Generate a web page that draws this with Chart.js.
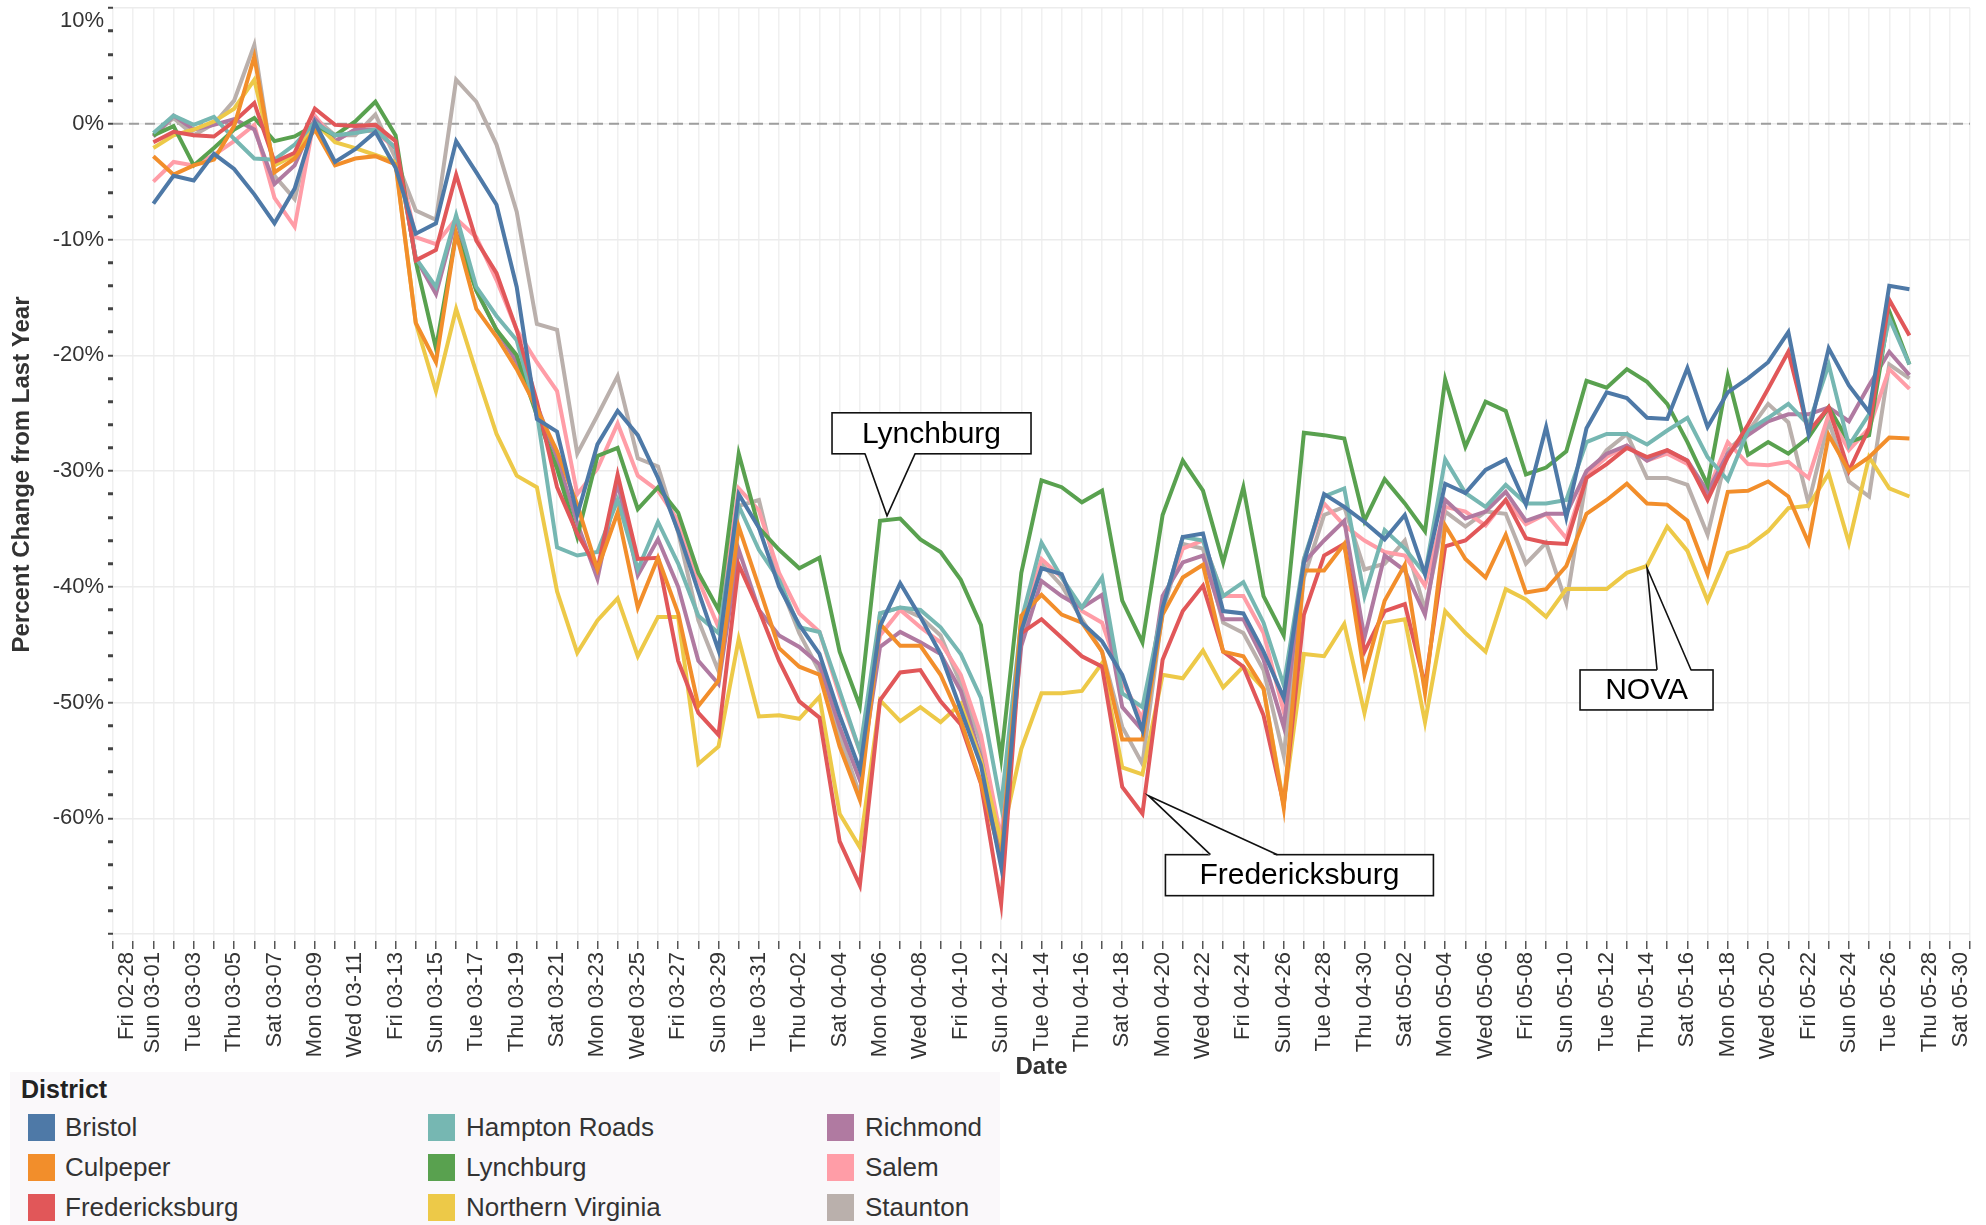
<!DOCTYPE html>
<html>
<head>
<meta charset="utf-8">
<title>Percent Change from Last Year by District</title>
<script src="https://cdn.jsdelivr.net/npm/chart.js@4.4.1/dist/chart.umd.min.js"></script>
<style>
  html, body { margin: 0; padding: 0; background: #fff; }
  body { width: 1986px; height: 1225px; position: relative; overflow: hidden; font-family: "Liberation Sans", Arial, sans-serif; }
  #chart { position: absolute; left: 0; top: 0; }
  #legendBg { position: absolute; left: 10px; top: 1072px; width: 990px; height: 153px; background: #faf8fa; }
  .legendTitle { position: absolute; left: 21px; top: 1074px; font-size: 25px; line-height: 30px; font-weight: bold; color: #222; }
  .swatch { position: absolute; width: 27px; height: 27px; }
  .legendText { position: absolute; font-size: 26px; line-height: 30px; color: #333; white-space: nowrap; }
</style>
</head>
<body>
<canvas id="chart" width="1986" height="1225"></canvas>
<div id="legendBg"></div>
<div class="legendTitle">District</div>
<div id="legendItems"></div>

<script>
// x categories: one per day
const dates = [
  "Fri 02-28", "Sat 02-29", "Sun 03-01", "Mon 03-02", "Tue 03-03", "Wed 03-04", "Thu 03-05", "Fri 03-06", "Sat 03-07", "Sun 03-08",
  "Mon 03-09", "Tue 03-10", "Wed 03-11", "Thu 03-12", "Fri 03-13", "Sat 03-14", "Sun 03-15", "Mon 03-16", "Tue 03-17", "Wed 03-18",
  "Thu 03-19", "Fri 03-20", "Sat 03-21", "Sun 03-22", "Mon 03-23", "Tue 03-24", "Wed 03-25", "Thu 03-26", "Fri 03-27", "Sat 03-28",
  "Sun 03-29", "Mon 03-30", "Tue 03-31", "Wed 04-01", "Thu 04-02", "Fri 04-03", "Sat 04-04", "Sun 04-05", "Mon 04-06", "Tue 04-07",
  "Wed 04-08", "Thu 04-09", "Fri 04-10", "Sat 04-11", "Sun 04-12", "Mon 04-13", "Tue 04-14", "Wed 04-15", "Thu 04-16", "Fri 04-17",
  "Sat 04-18", "Sun 04-19", "Mon 04-20", "Tue 04-21", "Wed 04-22", "Thu 04-23", "Fri 04-24", "Sat 04-25", "Sun 04-26", "Mon 04-27",
  "Tue 04-28", "Wed 04-29", "Thu 04-30", "Fri 05-01", "Sat 05-02", "Sun 05-03", "Mon 05-04", "Tue 05-05", "Wed 05-06", "Thu 05-07",
  "Fri 05-08", "Sat 05-09", "Sun 05-10", "Mon 05-11", "Tue 05-12", "Wed 05-13", "Thu 05-14", "Fri 05-15", "Sat 05-16", "Sun 05-17",
  "Mon 05-18", "Tue 05-19", "Wed 05-20", "Thu 05-21", "Fri 05-22", "Sat 05-23", "Sun 05-24", "Mon 05-25", "Tue 05-26", "Wed 05-27",
  "Thu 05-28", "Fri 05-29", "Sat 05-30"
];

// percent change from last year, Sun 03-01 .. Wed 05-27 (null where no data)
const bristol = [null, null,
  -6.9, -4.5, -4.9, -2.6, -3.9, -6.1, -8.6, -5.6, 0.1, -3.3,
  -2.2, -0.7, -3.8, -9.5, -8.6, -1.5, -4.2, -7.0, -14.1, -25.5,
  -26.6, -33.8, -27.7, -24.8, -26.9, -30.6, -35.2, -40.4, -45.5, -32.0,
  -34.9, -40.0, -43.3, -45.8, -51.1, -55.8, -43.4, -39.7, -42.6, -45.8,
  -50.6, -55.4, -64.2, -43.8, -38.4, -38.9, -43.1, -44.7, -47.6, -52.4,
  -41.8, -35.7, -35.4, -42.1, -42.3, -45.6, -49.6, -37.9, -32.0, -33.1,
  -34.4, -35.9, -33.8, -38.9, -31.1, -31.9, -29.9, -29.0, -32.9, -26.2,
  -34.0, -26.3, -23.2, -23.7, -25.4, -25.5, -21.1, -26.2, -23.2, -22.0,
  -20.6, -18.0, -26.8, -19.4, -22.6, -24.9, -14.0, -14.3,
  null, null, null];

const culpeper = [null, null,
  -2.8, -4.4, -3.6, -3.1, -0.2, 5.8, -4.2, -3.0, -0.5, -3.6,
  -3.0, -2.8, -3.5, -17.2, -20.6, -9.5, -16.0, -18.4, -21.2, -24.6,
  -28.3, -32.9, -38.5, -33.6, -41.8, -37.5, -42.3, -50.3, -48.1, -34.8,
  -40.0, -45.3, -46.9, -47.6, -53.8, -58.4, -43.2, -45.1, -45.1, -47.6,
  -51.5, -56.9, -63.5, -42.5, -40.7, -42.4, -43.1, -45.6, -53.2, -53.2,
  -42.4, -39.2, -38.1, -45.6, -46.0, -48.8, -59.1, -38.6, -38.6, -36.3,
  -47.6, -41.2, -38.1, -49.2, -34.7, -37.6, -39.2, -35.5, -40.5, -40.2,
  -38.2, -33.7, -32.5, -31.1, -32.8, -32.9, -34.3, -38.9, -31.8, -31.7,
  -30.9, -32.2, -36.2, -26.9, -30.0, -28.8, -27.1, -27.2,
  null, null, null];

const fredericksburg = [null, null,
  -1.6, -0.7, -1.0, -1.1, 0.2, 1.8, -3.3, -2.5, 1.3, -0.1,
  -0.2, -0.1, -1.5, -11.8, -10.9, -4.4, -10.1, -12.9, -17.8, -24.0,
  -31.4, -35.4, -38.5, -30.3, -37.6, -37.5, -46.4, -50.9, -52.8, -38.1,
  -42.0, -46.4, -49.9, -51.3, -62.0, -65.8, -49.8, -47.4, -47.2, -49.9,
  -51.9, -57.0, -67.4, -44.0, -42.8, -44.4, -46.0, -46.9, -57.3, -59.6,
  -46.3, -42.1, -39.9, -45.6, -46.9, -51.1, -58.8, -42.4, -37.3, -36.3,
  -45.6, -42.1, -41.5, -48.5, -36.5, -36.0, -34.5, -32.5, -35.8, -36.2,
  -36.3, -30.6, -29.4, -28.0, -28.8, -28.2, -29.1, -32.5, -28.8, -26.0,
  -22.9, -19.7, -26.6, -24.5, -30.0, -26.3, -15.2, -18.3,
  null, null, null];

const hamptonRoads = [null, null,
  -0.8, 0.7, -0.1, 0.6, -1.3, -3.0, -3.1, -1.8, 0.1, -1.0,
  -0.8, -0.5, -2.1, -11.6, -14.1, -7.9, -14.1, -16.6, -18.7, -25.0,
  -36.6, -37.3, -37.0, -32.5, -38.5, -34.4, -38.0, -42.5, -44.0, -33.0,
  -36.8, -39.4, -43.5, -43.9, -49.0, -54.2, -42.3, -41.8, -42.0, -43.5,
  -45.8, -49.6, -58.9, -42.9, -36.2, -39.2, -41.8, -39.2, -49.2, -50.4,
  -41.8, -35.7, -36.0, -40.8, -39.6, -43.1, -48.5, -37.6, -32.2, -31.5,
  -40.8, -35.1, -36.7, -38.9, -29.0, -31.9, -33.1, -31.2, -32.8, -32.8,
  -32.5, -27.5, -26.8, -26.8, -27.7, -26.5, -25.4, -28.8, -30.8, -26.5,
  -25.4, -24.2, -26.0, -20.8, -27.8, -25.1, -16.8, -20.8,
  null, null, null];

const lynchburg = [null, null,
  -1.0, -0.2, -3.6, -2.1, -0.5, 0.5, -1.5, -1.1, -0.1, -1.0,
  0.2, 1.9, -1.0, -11.9, -19.4, -9.5, -14.4, -17.8, -20.0, -25.2,
  -29.8, -35.7, -28.7, -28.0, -33.3, -31.4, -33.6, -38.8, -42.0, -28.5,
  -34.9, -36.8, -38.4, -37.5, -45.6, -50.3, -34.3, -34.1, -35.9, -37.0,
  -39.4, -43.3, -54.8, -38.8, -30.8, -31.4, -32.7, -31.7, -41.2, -44.8,
  -33.8, -29.1, -31.7, -37.9, -31.4, -40.8, -44.2, -26.7, -26.9, -27.2,
  -34.3, -30.7, -32.8, -35.2, -22.1, -27.9, -24.0, -24.8, -30.3, -29.7,
  -28.3, -22.2, -22.8, -21.2, -22.3, -24.2, -27.5, -31.2, -21.8, -28.6,
  -27.5, -28.5, -27.1, -24.5, -27.5, -26.9, -16.2, -20.8,
  null, null, null];

const northernVirginia = [null, null,
  -2.1, -1.0, -0.5, 0.2, 1.3, 3.8, -3.6, -2.7, 0.1, -1.6,
  -2.1, -2.7, -3.3, -17.2, -23.1, -16.0, -21.5, -26.8, -30.4, -31.4,
  -40.4, -45.7, -42.9, -41.0, -46.0, -42.6, -42.6, -55.3, -53.8, -44.5,
  -51.2, -51.1, -51.4, -49.5, -59.6, -62.5, -49.8, -51.6, -50.4, -51.7,
  -50.1, -55.0, -62.0, -54.0, -49.2, -49.2, -49.0, -46.6, -55.6, -56.2,
  -47.6, -47.9, -45.5, -48.7, -46.9, -48.8, -58.8, -45.8, -46.0, -43.2,
  -50.9, -43.1, -42.8, -51.7, -42.1, -44.0, -45.6, -40.2, -41.1, -42.6,
  -40.2, -40.2, -40.2, -38.8, -38.2, -34.8, -36.9, -41.2, -37.1, -36.5,
  -35.2, -33.2, -33.0, -30.2, -36.2, -28.8, -31.5, -32.2,
  null, null, null];

const richmond = [null, null,
  -1.1, 0.7, -0.5, -0.1, 0.4, -0.5, -5.2, -3.6, 0.4, -1.5,
  -0.5, -0.5, -2.1, -11.6, -14.7, -8.2, -14.4, -17.8, -20.6, -24.3,
  -28.9, -34.5, -39.3, -31.0, -39.0, -35.9, -40.0, -46.4, -48.4, -36.8,
  -42.0, -44.2, -45.2, -46.7, -52.1, -56.7, -45.2, -43.9, -44.8, -45.8,
  -49.0, -54.8, -62.8, -45.1, -39.5, -40.8, -41.8, -40.7, -50.4, -52.4,
  -40.8, -37.9, -37.3, -42.8, -42.8, -46.3, -52.1, -37.9, -36.0, -34.3,
  -44.4, -37.3, -38.6, -42.4, -32.5, -34.1, -33.5, -31.8, -34.3, -33.7,
  -33.7, -30.0, -28.5, -27.8, -29.1, -28.2, -29.1, -31.8, -28.5, -26.9,
  -25.7, -25.1, -25.1, -24.5, -25.7, -22.6, -19.7, -21.7,
  null, null, null];

const salem = [null, null,
  -5.0, -3.3, -3.6, -2.7, -1.5, -0.1, -6.4, -8.9, 0.7, -1.5,
  -0.5, -0.7, -2.1, -9.8, -10.4, -8.2, -9.8, -13.5, -17.8, -20.6,
  -23.1, -32.0, -29.8, -25.9, -30.4, -31.7, -34.3, -39.4, -43.5, -31.5,
  -33.4, -38.8, -42.3, -43.9, -49.4, -54.2, -44.2, -42.0, -43.5, -44.8,
  -47.6, -52.8, -61.8, -43.2, -37.6, -39.2, -42.1, -43.1, -48.2, -51.4,
  -41.5, -36.7, -36.0, -40.8, -40.8, -44.0, -50.8, -37.6, -32.8, -34.7,
  -36.0, -37.0, -37.3, -39.9, -33.1, -33.5, -34.7, -32.5, -34.6, -33.7,
  -35.8, -30.3, -28.8, -27.8, -29.1, -28.5, -29.4, -31.8, -27.5, -29.4,
  -29.5, -29.2, -30.6, -25.1, -28.2, -26.3, -21.2, -22.9,
  null, null, null];

const staunton = [null, null,
  -1.0, 0.5, -1.0, 0.0, 2.0, 6.8, -4.5, -6.5, 0.5, -1.0,
  -1.0, 0.8, -3.0, -7.5, -8.3, 3.8, 1.9, -1.8, -7.6, -17.3,
  -17.8, -28.5, -25.2, -21.8, -28.9, -29.6, -35.3, -42.9, -47.3, -33.0,
  -32.5, -39.6, -44.0, -47.3, -52.8, -58.0, -42.3, -41.8, -42.6, -44.2,
  -48.4, -53.5, -63.4, -44.2, -38.0, -39.9, -42.8, -45.6, -52.1, -55.3,
  -42.1, -36.3, -36.7, -43.1, -44.0, -47.2, -54.6, -39.2, -33.8, -33.1,
  -38.5, -38.0, -36.0, -42.0, -33.5, -34.8, -33.5, -33.7, -38.0, -36.2,
  -41.4, -30.6, -28.2, -26.8, -30.6, -30.6, -31.2, -35.5, -28.2, -26.6,
  -24.2, -25.8, -32.8, -25.7, -30.9, -32.2, -20.8, -22.0,
  null, null, null];

const districtNames = ["Bristol", "Culpeper", "Fredericksburg", "Hampton Roads", "Lynchburg",
  "Northern Virginia", "Richmond", "Salem", "Staunton"];
const districtColors = ["#4e79a7", "#f28e2b", "#e15759", "#76b7b2", "#59a14f",
  "#edc948", "#b07aa1", "#ff9da7", "#bab0ac"];
const districtValues = [bristol, culpeper, fredericksburg, hamptonRoads, lynchburg,
  northernVirginia, richmond, salem, staunton];

const fontFamily = '"Liberation Sans", Arial, sans-serif';

// callout boxes (offsets in px from the pointed-at point)
const callouts = [
  { text: "Lynchburg", series: "Lynchburg", day: 38, tip: [7, -5], box: [-55, -103, 199, 41], side: "bottom", base: [-22, 28] },
  { text: "Fredericksburg", series: "Fredericksburg", day: 51, tip: [6, -18], box: [17, 59, 268, 41], side: "top", base: [62, 129] },
  { text: "NOVA", series: "Northern Virginia", day: 76, tip: [0, 2], box: [-67, 102, 133, 40], side: "top", base: [10, 44] }
];

const zeroLine = {
  id: "zeroLine",
  beforeDatasetsDraw(chart) {
    const { ctx, chartArea, scales } = chart;
    const y = scales.y.getPixelForValue(0);
    ctx.save();
    ctx.strokeStyle = "#9e9e9e";
    ctx.lineWidth = 2;
    ctx.setLineDash([10, 6]);
    ctx.beginPath();
    ctx.moveTo(chartArea.left, y);
    ctx.lineTo(chartArea.right, y);
    ctx.stroke();
    ctx.restore();
  }
};

// edge labels nudged inward, as the original tool does
const edgeLabels = {
  id: "edgeLabels",
  afterDraw(chart) {
    const { ctx, chartArea, scales } = chart;
    const last = dates.length - 1;
    ctx.save();
    ctx.fillStyle = "#333";
    ctx.font = "22px " + fontFamily;
    ctx.textAlign = "right";
    ctx.textBaseline = "middle";
    ctx.fillText("10%", chartArea.left - 9, scales.y.getPixelForValue(10) + 13);
    [[0, 14], [last, -9]].forEach(([i, dx]) => {
      ctx.save();
      ctx.translate(scales.x.getPixelForValue(i) + dx, chartArea.bottom + 11);
      ctx.rotate(-Math.PI / 2);
      ctx.fillText(dates[i], 0, 0);
      ctx.restore();
    });
    ctx.restore();
  }
};

const calloutPlugin = {
  id: "callouts",
  afterDatasetsDraw(chart) {
    const ctx = chart.ctx;
    callouts.forEach(c => {
      const idx = districtNames.indexOf(c.series);
      const pt = chart.getDatasetMeta(idx).data[c.day];
      const tx = pt.x + c.tip[0];
      const ty = pt.y + c.tip[1];
      const bx = tx + c.box[0], by = ty + c.box[1], w = c.box[2], h = c.box[3];
      const baseY = c.side === "bottom" ? by + h : by;
      const inward = c.side === "bottom" ? -1.5 : 1.5;
      ctx.save();
      ctx.fillStyle = "#fff";
      ctx.strokeStyle = "#111";
      ctx.lineWidth = 1.6;
      ctx.fillRect(bx, by, w, h);
      ctx.strokeRect(bx, by, w, h);
      ctx.beginPath();
      ctx.moveTo(tx + c.base[0], baseY + inward);
      ctx.lineTo(tx, ty);
      ctx.lineTo(tx + c.base[1], baseY + inward);
      ctx.closePath();
      ctx.fill();
      ctx.beginPath();
      ctx.moveTo(tx + c.base[0], baseY);
      ctx.lineTo(tx, ty);
      ctx.lineTo(tx + c.base[1], baseY);
      ctx.stroke();
      ctx.fillStyle = "#000";
      ctx.font = "30px " + fontFamily;
      ctx.textAlign = "center";
      ctx.textBaseline = "middle";
      ctx.fillText(c.text, bx + w / 2, by + h / 2 + 1);
      ctx.restore();
    });
  }
};

document.addEventListener("DOMContentLoaded", () => {
  const ctx = document.getElementById("chart").getContext("2d");
  new Chart(ctx, {
    type: "line",
    data: {
      labels: dates,
      datasets: districtNames.map((name, i) => ({
        label: name,
        data: districtValues[i],
        borderColor: districtColors[i],
        backgroundColor: districtColors[i],
        borderWidth: 4,
        pointRadius: 0,
        tension: 0,
        fill: false
      }))
    },
    options: {
      responsive: false,
      animation: false,
      devicePixelRatio: 1,
      layout: { padding: { top: 8, right: 16, bottom: 141, left: 0 } },
      plugins: {
        legend: { display: false },
        tooltip: { enabled: false }
      },
      scales: {
        x: {
          grid: { color: "#f0f0f0", lineWidth: 1.5, tickColor: "#555", tickLength: 8, tickWidth: 1.5 },
          border: { display: false },
          ticks: {
            autoSkip: false, maxRotation: 90, minRotation: 90, padding: 3,
            color: "#333", font: { family: fontFamily, size: 22 },
            callback: (v, i) => (i % 2 === 0 && i > 0 && i < dates.length - 1) ? dates[i] : ""
          },
          title: {
            display: true, text: "Date", color: "#333",
            font: { family: fontFamily, size: 24, weight: "bold" },
            padding: { top: 0, bottom: 2 }
          },
          afterFit: s => { s.height = 143; s.paddingLeft = 0; s.paddingRight = 0; }
        },
        y: {
          min: -70.6,
          max: 10,
          ticks: {
            stepSize: 2, includeBounds: false, autoSkip: false, padding: 4,
            color: "#333", font: { family: fontFamily, size: 22 },
            callback: v => (Math.round(v) % 10 === 0 && v >= -60 && v < 10) ? Math.round(v) + "%" : ""
          },
          grid: {
            color: c => (c.tick && Math.round(c.tick.value) % 10 === 0) ? "#ececec" : "rgba(0,0,0,0)",
            lineWidth: 1.5,
            tickColor: "#444",
            tickLength: 5,
            tickWidth: c => (c.tick && Math.round(c.tick.value) % 10 === 0) ? 2 : 3
          },
          border: { display: false },
          title: {
            display: true, text: "Percent Change from Last Year", color: "#333",
            font: { family: fontFamily, size: 24, weight: "bold" },
            padding: { top: 8, bottom: 0 }
          },
          afterFit: s => { s.width = 113; s.paddingTop = 0; s.paddingBottom = 0; }
        }
      }
    },
    plugins: [zeroLine, calloutPlugin, edgeLabels]
  });

  // legend: 3 columns x 3 rows
  const legendItems = document.getElementById("legendItems");
  const swatchX = [28, 428, 827];
  const textX = [65, 466, 865];
  const rowY = [1127, 1167, 1207];
  districtNames.forEach((name, i) => {
    const col = Math.floor(i / 3), row = i % 3;
    const sw = document.createElement("div");
    sw.className = "swatch";
    sw.style.left = swatchX[col] + "px";
    sw.style.top = (rowY[row] - 13.5) + "px";
    sw.style.background = districtColors[i];
    legendItems.appendChild(sw);
    const t = document.createElement("div");
    t.className = "legendText";
    t.style.left = textX[col] + "px";
    t.style.top = (rowY[row] - 15) + "px";
    t.textContent = name;
    legendItems.appendChild(t);
  });
});
</script>
</body>
</html>
